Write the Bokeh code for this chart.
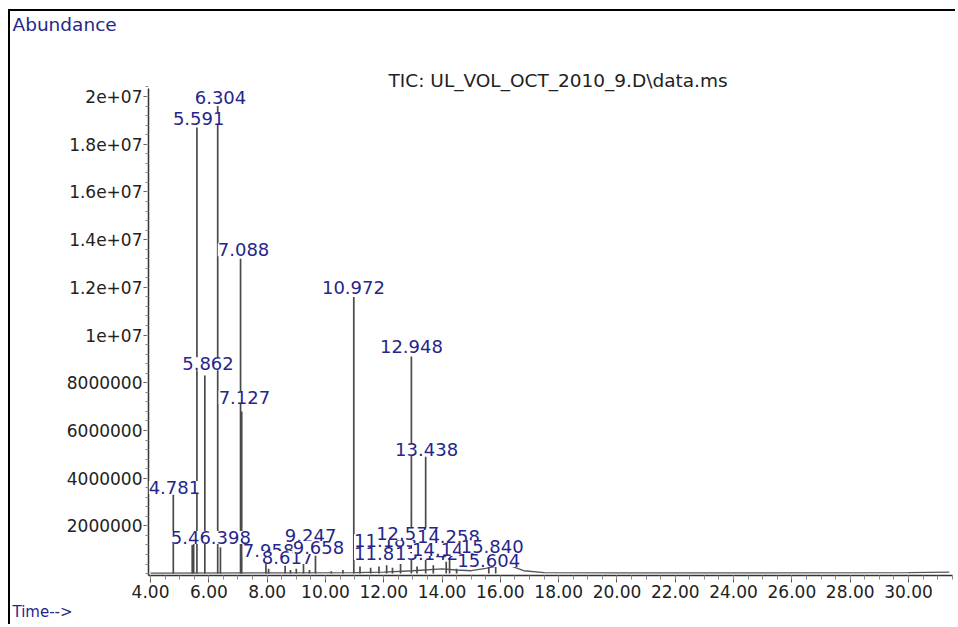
from bokeh.plotting import figure
from bokeh.models import ColumnDataSource, FixedTicker, LabelSet, Label, Title
from bokeh.core.properties import value
from bokeh.embed import file_html
from bokeh.resources import INLINE

# ---------------- data ----------------
# retention times (min) and abundances of the drawn peaks
peak_rt = [4.781, 5.430, 5.480, 5.591, 5.862, 6.304, 6.398, 7.088, 7.127,
           7.958, 8.617, 9.247, 9.658, 10.972, 11.185, 11.550, 11.836,
           12.100, 12.300, 12.577, 12.948, 13.142, 13.438, 13.700, 14.143,
           14.258, 14.500, 15.604, 15.840, 8.050, 8.800, 9.000, 9.450,
           10.200, 10.600]
peak_ab = [3.3e6, 1.2e6, 1.3e6, 18.7e6, 8.3e6, 19.6e6, 1.1e6, 13.2e6, 6.8e6,
           0.40e6, 0.33e6, 0.45e6, 0.75e6, 11.6e6, 0.30e6, 0.25e6, 0.30e6,
           0.35e6, 0.25e6, 0.40e6, 9.1e6, 0.30e6, 4.9e6, 0.35e6, 0.50e6,
           0.60e6, 0.20e6, 0.40e6, 0.60e6, 0.20e6, 0.15e6, 0.20e6, 0.15e6,
           0.10e6, 0.15e6]

# baseline / unresolved hump of the TIC trace
base_rt = [4.0, 8.0, 11.0, 12.0, 13.0, 14.0, 14.5, 15.0, 15.5, 16.0, 16.4,
           16.8, 17.5, 20.0, 25.0, 30.0, 31.4]
base_ab = [0.02e6, 0.03e6, 0.04e6, 0.06e6, 0.12e6, 0.20e6, 0.15e6, 0.12e6,
           0.22e6, 0.35e6, 0.30e6, 0.12e6, 0.04e6, 0.03e6, 0.03e6, 0.04e6,
           0.06e6]

# peak annotations (text) in drawing order, and where each text sits
lab_text = ["4.781", "5.458", "6.398", "5.591", "6.304", "5.862", "7.088",
            "7.127", "7.958", "8.617", "9.247", "9.658", "10.972", "11.185",
            "12.577", "11.836", "13.142", "14.258", "14.143", "15.604",
            "15.840", "12.948", "13.438"]
lab_x = [4.82, 5.58, 6.56, 5.65, 6.40, 5.97, 7.19, 7.22, 8.05, 8.70, 9.49,
         9.76, 10.96, 12.06, 12.82, 12.06, 13.47, 14.22, 14.05, 15.60,
         15.72, 12.95, 13.47]
lab_y = [3.61e6, 1.51e6, 1.51e6, 19.08e6, 19.96e6, 8.80e6, 13.58e6, 7.38e6,
         0.96e6, 0.67e6, 1.59e6, 1.09e6, 11.99e6, 1.38e6, 1.68e6, 0.84e6,
         0.84e6, 1.55e6, 1.01e6, 0.55e6, 1.13e6, 9.52e6, 5.20e6]

x_ticks = [4, 6, 8, 10, 12, 14, 16, 18, 20, 22, 24, 26, 28, 30]
x_tick_labels = ["4.00", "6.00", "8.00", "10.00", "12.00", "14.00", "16.00",
                 "18.00", "20.00", "22.00", "24.00", "26.00", "28.00", "30.00"]
y_ticks = [2e6, 4e6, 6e6, 8e6, 10e6, 12e6, 14e6, 16e6, 18e6, 20e6]
y_tick_labels = ["2000000", "4000000", "6000000", "8000000", "1e+07",
                 "1.2e+07", "1.4e+07", "1.6e+07", "1.8e+07", "2e+07"]
x_minor = [4 + 0.5 * i for i in range(56)]
y_minor = [0.4e6 * i for i in range(52)]

title_text = "TIC: UL_VOL_OCT_2010_9.D\\data.ms"

# ---------------- figure ----------------
FONT = "DejaVu Sans"
NAVY = "#26268a"
Y_AXIS_TOP = 20.34e6

p = figure(width=947, height=615, output_backend="svg", toolbar_location=None,
           x_range=(3.93, 31.51), y_range=(-0.08e6, 22.60e6),
           min_border_left=138, min_border_right=5, min_border_top=20,
           min_border_bottom=51)
p.outline_line_color = None
p.xgrid.visible = False
p.ygrid.visible = False
p.background_fill_color = "white"
p.border_fill_color = "white"
p.styles = {"margin-left": "8px", "margin-top": "9px",
            "border-top": "2px solid black", "border-left": "2px solid black"}

# trace
p.line(base_rt, base_ab, line_color="#555555", line_width=1.3)
src = ColumnDataSource(dict(x=peak_rt, top=peak_ab, bot=[0] * len(peak_rt)))
p.segment(x0="x", y0="bot", x1="x", y1="top", source=src,
          line_color="#4a4a4a", line_width=1.7)

# axes
xa = p.xaxis[0]
xa.ticker = FixedTicker(ticks=x_ticks, minor_ticks=x_minor)
xa.major_label_overrides = {t: l for t, l in zip(x_ticks, x_tick_labels)}
ya = p.yaxis[0]
ya.ticker = FixedTicker(ticks=y_ticks, minor_ticks=y_minor)
ya.major_label_overrides = {t: l for t, l in zip(y_ticks, y_tick_labels)}
ya.bounds = (-0.08e6, Y_AXIS_TOP)
for ax in (xa, ya):
    ax.axis_line_color = "#333333"
    ax.axis_line_width = 1.5
    ax.major_tick_line_color = "#555555"
    ax.minor_tick_line_color = "#888888"
    ax.major_label_text_font = FONT
    ax.major_label_text_font_size = "17px"
    ax.major_label_text_color = "#222222"
    ax.major_tick_in = 0
    ax.minor_tick_in = 0
xa.major_tick_out = 7
xa.minor_tick_out = 4
xa.major_label_standoff = 2
ya.major_tick_out = 5
ya.minor_tick_out = 3
ya.major_label_standoff = 1

# peak labels (white backed, later ones cover earlier ones)
lsrc = ColumnDataSource(dict(x=lab_x, y=lab_y, t=lab_text))
p.add_layout(LabelSet(x="x", y="y", text="t", source=lsrc,
                      text_align="center", text_baseline="middle",
                      text_font=value(FONT), text_font_size="18px",
                      text_color=NAVY, background_fill_color="white",
                      level="overlay"))

# chromatogram name, inside the plotting area above the y axis top
p.add_layout(Label(x=17.98, y=20.67e6, text=title_text,
                   text_align="center", text_baseline="middle",
                   text_font=FONT, text_font_size="18.5px",
                   text_color="#222222"))

# axis captions
p.title.text = "Abundance"
p.title.align = "left"
p.title.offset = -136
p.title.standoff = 0
p.title.text_font = FONT
p.title.text_font_size = "18.5px"
p.title.text_font_style = "normal"
p.title.text_color = NAVY

p.add_layout(Title(text="Time-->", align="left", offset=-136, standoff=0,
                   text_font=FONT, text_font_size="15px",
                   text_font_style="normal", text_color=NAVY), "below")

open("out.html", "w").write(file_html(p, INLINE))
